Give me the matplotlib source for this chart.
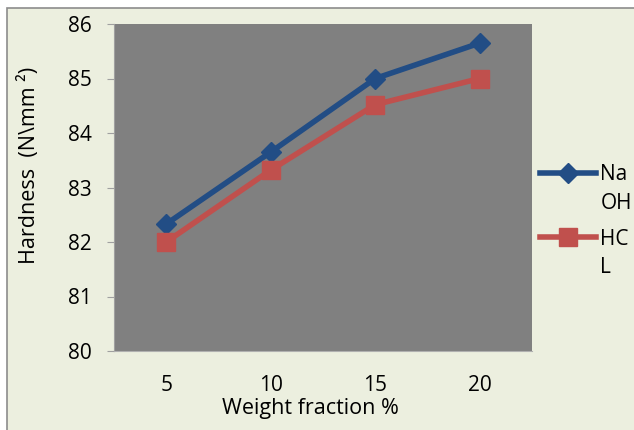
import matplotlib.pyplot as plt
from matplotlib.patches import Rectangle
from matplotlib.legend_handler import HandlerLine2D

# data
fractions = ['5', '10', '15', '20']
naoh = [82.33, 83.65, 85.0, 85.65]
hcl = [82.0, 83.32, 84.52, 85.0]

plt.rcParams['font.family'] = ['Open Sans', 'DejaVu Sans']


class UpHandler(HandlerLine2D):
    # put the legend line next to the first text line, not the middle
    def create_artists(self, legend, orig_handle, xdescent, ydescent,
                       width, height, fontsize, trans):
        return super().create_artists(legend, orig_handle, xdescent,
                                      ydescent - 1.62 * fontsize, width,
                                      height, fontsize, trans)


fig = plt.figure(figsize=(6.34, 4.30), dpi=100)
fig.patch.set_facecolor('white')
# beige chart panel with grey border
fig.patches.append(Rectangle((7 / 634, -0.1), 1.2, 1 - 8 / 430 + 0.1,
                             transform=fig.transFigure, facecolor='#ECEFDF',
                             edgecolor='#8C8C8C', linewidth=1.2, zorder=-5))

ax = fig.add_axes([114 / 634, 1 - 351 / 430, 418 / 634, 327 / 430])
ax.set_facecolor('#808080')

x = range(len(fractions))
l1, = ax.plot(x, naoh, color='#224D85', lw=4, marker='D', ms=10, label='Na\nOH')
l2, = ax.plot(x, hcl, color='#C0504D', lw=4, marker='s', ms=13, label='HC\nL')

ax.set_xlim(-0.5, len(fractions) - 0.5)
ax.set_ylim(80, 86)
ax.set_yticks(range(80, 87))
ax.set_xticks(list(x))
ax.set_xticklabels(fractions)
ax.tick_params(axis='x', length=0, labelsize=15, pad=17)
ax.tick_params(axis='y', length=5, color='#A0A0A0', labelsize=15, pad=11)

for s in ['top', 'right']:
    ax.spines[s].set_visible(False)
ax.spines['left'].set_color('#A0A0A0')
ax.spines['bottom'].set_color('#B0B0B0')

ax.set_xlabel('Weight fraction %', fontsize=15.5)
ax.xaxis.set_label_coords(0.471, -0.143)
ax.set_ylabel('Hardness  (N\\mm ²)', fontsize=15.5)
ax.yaxis.set_label_coords(-0.178, 0.566)

leg = fig.legend(handles=[l1, l2], loc='upper left',
                 bbox_to_anchor=(540 / 634, 1 - 164 / 430), frameon=False,
                 fontsize=15, handlelength=2.7, handletextpad=0.2,
                 labelspacing=0.72, borderpad=0, borderaxespad=0,
                 handler_map={l1: UpHandler(), l2: UpHandler()})
for t in leg.get_texts():
    t.set_linespacing(1.48)

fig.savefig('out.png', dpi=100, facecolor=fig.get_facecolor())
